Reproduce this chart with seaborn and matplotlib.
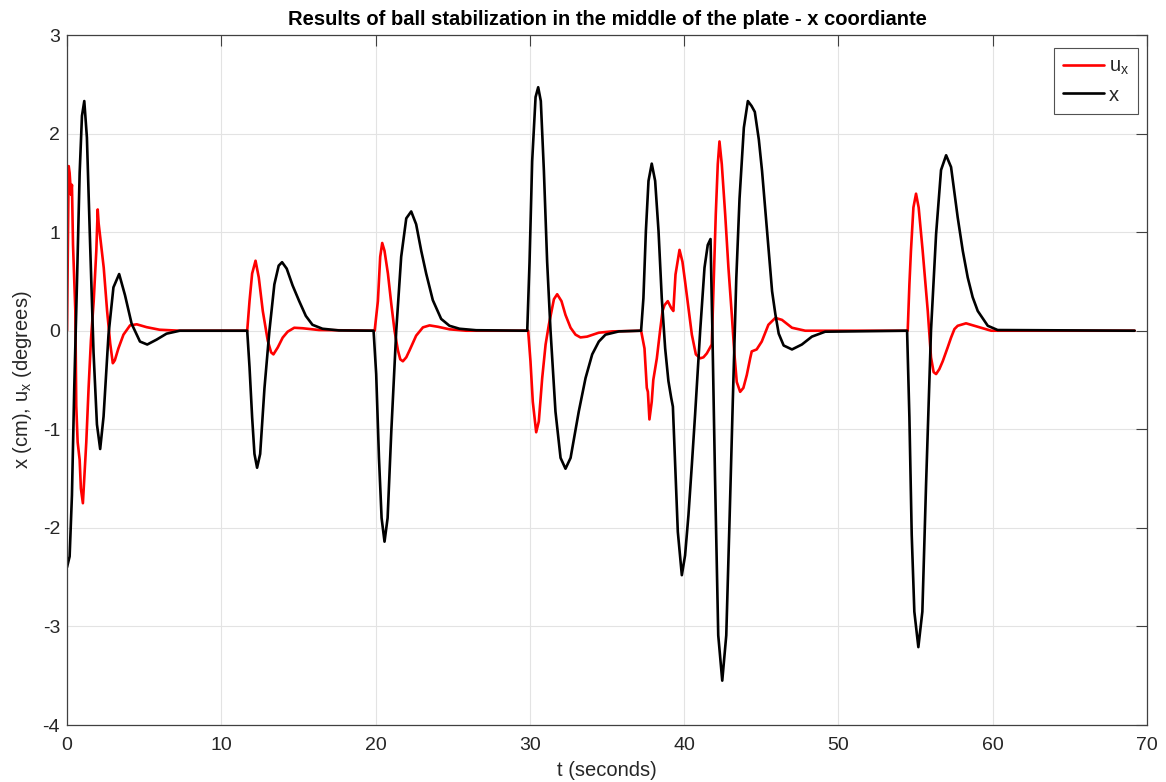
import numpy as np
import pandas as pd
import matplotlib
matplotlib.use("Agg")
import matplotlib.pyplot as plt
import seaborn as sns

# ---- data ----
ux_t = [0, 0.11, 0.17, 0.26, 0.32, 0.39, 0.47, 0.54, 0.6, 0.69, 0.82, 0.9, 1.03, 1.12, 1.25, 1.4, 1.55,
        1.73, 1.9, 1.99, 2.05, 2.16, 2.38, 2.6, 2.8, 2.97, 3.1, 3.33, 3.66, 4.09, 4.52, 5.16, 6.0, 7.3,
        11.68, 11.83, 12.0, 12.22, 12.43, 12.69, 13.01, 13.23, 13.38, 13.66, 13.98, 14.3, 14.73, 15.27, 16.34,
        19.94, 20.15, 20.3, 20.43, 20.58, 20.8, 21.02, 21.23, 21.45, 21.6, 21.77, 21.99, 22.2, 22.63, 23.07,
        23.5, 24.04, 24.8, 25.87,
        29.89, 30.04, 30.19, 30.41, 30.58, 30.8, 31.02, 31.23, 31.56, 31.77, 32.05, 32.31, 32.64, 32.96,
        33.28, 33.71, 34.47, 35.33,
        37.21, 37.43, 37.58, 37.65, 37.75, 37.9, 38.0, 38.23, 38.44, 38.6, 38.73, 38.94, 39.16, 39.3, 39.44,
        39.7, 39.89, 40.06, 40.28, 40.5, 40.76, 41.04, 41.25, 41.47, 41.79, 42.05, 42.18, 42.29, 42.44,
        42.66, 42.87, 43.09, 43.26, 43.41, 43.63, 43.84, 44.06, 44.28, 44.38, 44.7, 45.03, 45.46, 45.91,
        46.34, 46.99, 47.85,
        54.49, 54.6, 54.7, 54.86, 55.03, 55.2, 55.46, 55.68, 55.79, 56.0, 56.17, 56.33, 56.54, 56.76, 57.08,
        57.3, 57.52, 57.73, 58.27, 59.03, 59.9, 69.2]
ux_v = [0, 1.67, 1.6, 1.38, 1.48, 0.87, 0.5, 0.2, -0.76, -1.13, -1.31, -1.6, -1.75, -1.49, -1.13, -0.58, -0.1,
        0.3, 0.81, 1.23, 1.09, 0.94, 0.64, 0.2, -0.13, -0.33, -0.3, -0.18, -0.04, 0.055, 0.065, 0.036, 0.01, 0,
        0, 0.3, 0.58, 0.71, 0.54, 0.2, -0.1, -0.22, -0.24, -0.17, -0.07, -0.01, 0.03, 0.025, 0.007,
        0, 0.3, 0.75, 0.89, 0.81, 0.58, 0.27, 0, -0.2, -0.29, -0.31, -0.27, -0.2, -0.05, 0.034,
        0.054, 0.04, 0.014, 0,
        0, -0.31, -0.72, -1.03, -0.92, -0.48, -0.14, 0.06, 0.32, 0.37, 0.3, 0.16, 0.03, -0.04,
        -0.068, -0.06, -0.02, -0.007,
        0, -0.18, -0.58, -0.62, -0.9, -0.72, -0.5, -0.28, 0, 0.2, 0.26, 0.3, 0.23, 0.2, 0.57,
        0.82, 0.7, 0.5, 0.23, -0.04, -0.24, -0.28, -0.27, -0.23, -0.14, 1.18, 1.69, 1.92, 1.69,
        1.18, 0.64, 0.16, -0.24, -0.52, -0.62, -0.58, -0.45, -0.28, -0.21, -0.19, -0.11, 0.06, 0.13,
        0.11, 0.03, 0.0,
        0, 0.47, 0.81, 1.25, 1.39, 1.25, 0.81, 0.41, 0.2, -0.27, -0.42, -0.44, -0.39, -0.31, -0.17,
        -0.07, 0.017, 0.05, 0.075, 0.04, 0, 0]

x_t = [0, 0.17, 0.32, 0.47, 0.65, 0.82, 0.97, 1.12, 1.29, 1.5, 1.72, 1.94, 2.15, 2.37, 2.69, 3.01, 3.38,
       3.76, 4.19, 4.73, 5.2, 5.81, 6.45, 7.31,
       11.68, 11.83, 12.0, 12.15, 12.32, 12.52, 12.8, 13.12, 13.44, 13.72, 13.94, 14.24, 14.62, 15.05, 15.48,
       15.91, 16.56, 17.63,
       19.87, 20.04, 20.22, 20.39, 20.58, 20.78, 21.02, 21.34, 21.66, 21.99, 22.31, 22.63, 22.96, 23.28,
       23.71, 24.25, 24.79, 25.44, 26.52,
       29.83, 29.98, 30.15, 30.37, 30.54, 30.71, 30.91, 31.12, 31.34, 31.66, 31.99, 32.31, 32.64, 33.17,
       33.61, 34.04, 34.47, 34.9, 35.77,
       37.21, 37.36, 37.52, 37.69, 37.9, 38.12, 38.34, 38.55, 38.77, 38.98, 39.16, 39.27, 39.42, 39.59,
       39.85, 40.06, 40.28, 40.5, 40.71, 41.04, 41.32, 41.53, 41.71, 41.83, 42.0, 42.21, 42.47, 42.73,
       42.95, 43.16, 43.38, 43.59, 43.87, 44.13, 44.37, 44.58, 44.84, 45.05, 45.27, 45.48, 45.7, 45.91,
       46.13, 46.45, 46.99, 47.63, 48.28, 49.14,
       54.45, 54.6, 54.75, 54.92, 55.18, 55.44, 55.68, 56.0, 56.33, 56.65, 56.98, 57.3, 57.73, 58.06,
       58.38, 58.7, 59.03, 59.68, 60.32, 69.2]
x_v = [-2.4, -2.29, -1.67, -0.58, 0.51, 1.6, 2.18, 2.33, 1.96, 0.87, -0.22, -0.95, -1.2, -0.87, -0.04, 0.44,
       0.575, 0.36, 0.07, -0.11, -0.14, -0.09, -0.03, 0.0,
       0.0, -0.37, -0.88, -1.25, -1.39, -1.25, -0.58, 0, 0.47, 0.66, 0.695, 0.63, 0.46, 0.3, 0.15,
       0.06, 0.02, 0.003,
       0, -0.44, -1.29, -1.9, -2.14, -1.9, -1.02, 0, 0.75, 1.14, 1.21, 1.08, 0.81, 0.58,
       0.31, 0.12, 0.05, 0.02, 0.005,
       0, 0.7, 1.72, 2.37, 2.47, 2.33, 1.62, 0.7, 0, -0.82, -1.29, -1.40, -1.29, -0.82,
       -0.48, -0.24, -0.11, -0.04, -0.007,
       0, 0.33, 1.01, 1.52, 1.695, 1.52, 1.01, 0.33, -0.18, -0.51, -0.68, -0.77, -1.36, -2.04,
       -2.48, -2.28, -1.87, -1.36, -0.85, 0, 0.64, 0.87, 0.93, 0.0, -1.48, -3.09, -3.55, -3.09,
       -1.88, -0.68, 0.53, 1.34, 2.06, 2.33, 2.28, 2.22, 1.94, 1.62, 1.21, 0.81, 0.4, 0.17,
       -0.03, -0.15, -0.19, -0.14, -0.06, -0.01,
       0, -0.88, -2.07, -2.85, -3.21, -2.85, -1.56, 0, 0.98, 1.63, 1.78, 1.66, 1.15, 0.81,
       0.54, 0.34, 0.2, 0.05, 0.007, 0]

x_ticks = [0, 10, 20, 30, 40, 50, 60, 70]
y_ticks = [-4, -3, -2, -1, 0, 1, 2, 3]
title = "Results of ball stabilization in the middle of the plate - x coordiante"
xlabel = "t (seconds)"
ylabel = r"x (cm), u$_\mathregular{x}$ (degrees)"
labels = [r"u$_\mathregular{x}$", "x"]

sns.set_theme(style="white")
plt.rcParams['font.family'] = ['Liberation Sans', 'DejaVu Sans']
plt.rcParams['mathtext.fontset'] = 'custom'
plt.rcParams['mathtext.rm'] = 'Liberation Sans'
plt.rcParams['axes.unicode_minus'] = False

fig = plt.figure(figsize=(11.66, 7.82), dpi=100)
ax = fig.add_axes([67/1166, 1-725/782, (1147-67)/1166, (725-35)/782])

df_u = pd.DataFrame({"t": ux_t, "v": ux_v})
df_x = pd.DataFrame({"t": x_t, "v": x_v})
sns.lineplot(data=df_u, x="t", y="v", ax=ax, color=(1, 0, 0), lw=1.9, sort=False,
             estimator=None, label=labels[0])
sns.lineplot(data=df_x, x="t", y="v", ax=ax, color="black", lw=1.9, sort=False,
             estimator=None, label=labels[1])

ax.set_xlim(0, 70)
ax.set_ylim(-4, 3)
ax.set_xticks(x_ticks)
ax.set_yticks(y_ticks)
ax.grid(True, color="#e3e3e3", lw=0.8)
ax.set_axisbelow(True)
for s in ax.spines.values():
    s.set_color("#404040")
    s.set_linewidth(0.9)
ax.tick_params(direction="in", length=8, width=0.8, color="#404040", labelsize=14,
               labelcolor="#262626", top=True, right=True)
ax.tick_params(axis="x", pad=9)
ax.tick_params(axis="y", pad=5)
ax.set_title(title, fontsize=14.5, fontweight="bold", pad=7, color="black")
ax.set_xlabel(xlabel, fontsize=14.5, color="#262626", labelpad=5)
ax.set_ylabel(ylabel, fontsize=14.5, color="#262626", labelpad=6)

leg = ax.legend(loc="upper right", fontsize=14.5, handlelength=2.0, frameon=True, fancybox=False,
                edgecolor="#262626", borderpad=0.45, labelspacing=0.4, handletextpad=0.25,
                borderaxespad=0, bbox_to_anchor=(0.9917, 0.981))
leg.get_frame().set_linewidth(0.8)

fig.savefig("out.png", dpi=100, facecolor="white")
